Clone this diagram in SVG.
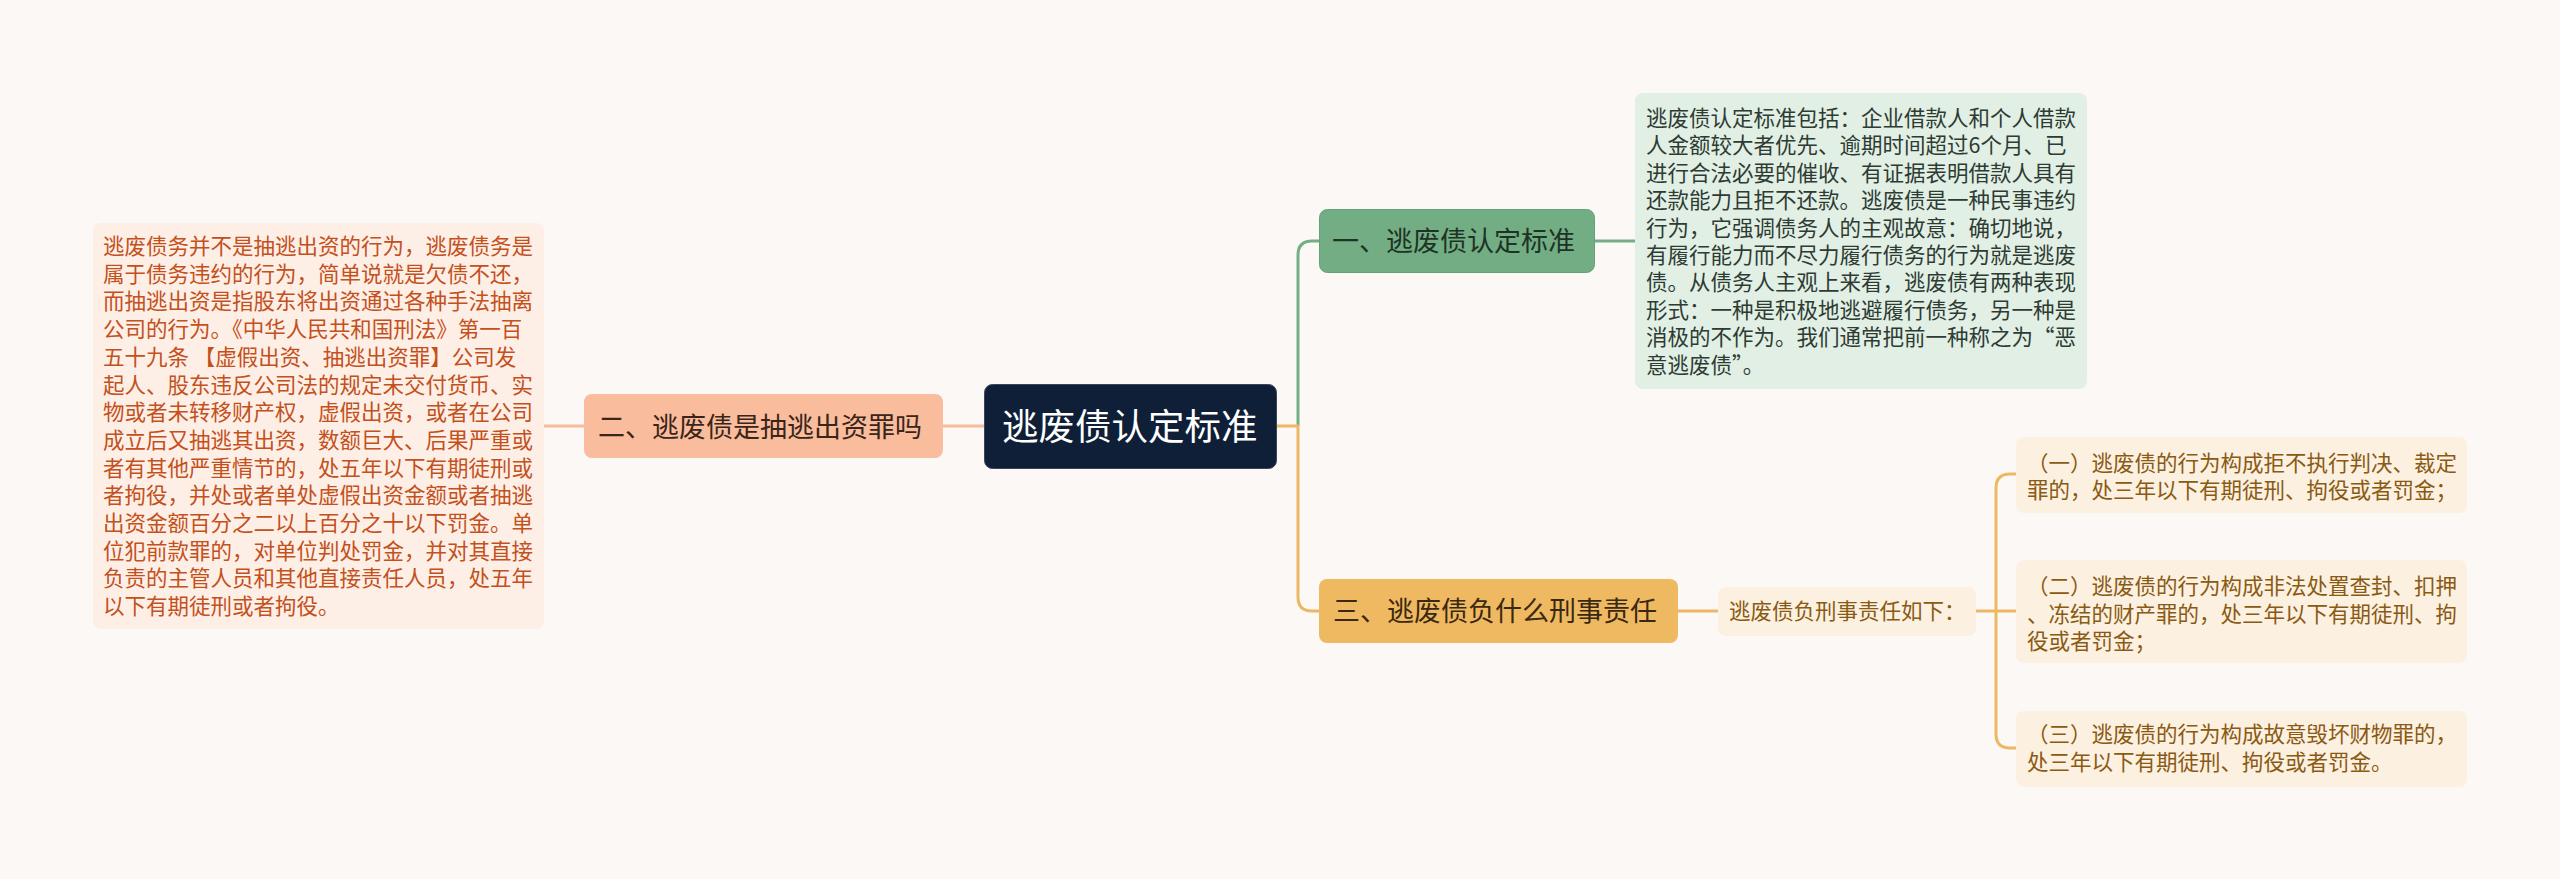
<svg xmlns="http://www.w3.org/2000/svg" width="2560" height="879" viewBox="0 0 2560 879">
<style>
text{font-family:"Noto Sans CJK SC","Noto Sans",sans-serif;}
.conn{fill:none;stroke-width:3;}
.t21{font-size:21.5px;}
.t27{font-size:27px;}
</style>
<rect x="0" y="0" width="2560" height="879" fill="#fcf8f6"/>
<g id="connectors">
  <path class="conn" stroke="#f6bc9e" d="M984,426 H943"/>
  <path class="conn" stroke="#f6bc9e" d="M584,426 H544"/>
  <path class="conn" stroke="#74ae86" d="M1298,426 V255 Q1298,241 1312,241 H1319"/>
  <path class="conn" stroke="#ecb864" d="M1277,426 H1298 V597 Q1298,611 1312,611 H1319"/>
  <path class="conn" stroke="#74ae86" d="M1595,241 H1635"/>
  <path class="conn" stroke="#ecb864" d="M1678,611 H1718"/>
  <path class="conn" stroke="#ecb864" d="M1976,611 H2016"/>
  <path class="conn" stroke="#ecb864" d="M2016,474 H2010 Q1996,474 1996,488 V734 Q1996,748 2010,748 H2016"/>
</g>
<g id="root">
  <rect x="984.5" y="384.5" width="292" height="84" rx="8" fill="#0f1f38" stroke="#3b4658" stroke-width="1"/>
  <text x="1002" y="440" font-size="36.5" fill="#ffffff">逃废债认定标准</text>
</g>
<g id="n1">
  <rect x="1319.5" y="209.5" width="275" height="63" rx="8" fill="#72ad84" stroke="#66a078" stroke-width="1"/>
  <text class="t27" x="1332" y="251" fill="#1f3324">一、逃废债认定标准</text>
</g>
<g id="n1-detail">
  <rect x="1635" y="93" width="452" height="296" rx="8" fill="#e1efe5"/>
  <text class="t21" fill="#2e3b33">
    <tspan x="1646" y="126">逃废债认定标准包括：企业借款人和个人借款</tspan>
    <tspan x="1646" y="153.4">人金额较大者优先、逾期时间超过6个月、已</tspan>
    <tspan x="1646" y="180.8">进行合法必要的催收、有证据表明借款人具有</tspan>
    <tspan x="1646" y="208.2">还款能力且拒不还款。逃废债是一种民事违约</tspan>
    <tspan x="1646" y="235.6">行为，它强调债务人的主观故意：确切地说，</tspan>
    <tspan x="1646" y="263">有履行能力而不尽力履行债务的行为就是逃废</tspan>
    <tspan x="1646" y="290.4">债。从债务人主观上来看，逃废债有两种表现</tspan>
    <tspan x="1646" y="317.8">形式：一种是积极地逃避履行债务，另一种是</tspan>
    <tspan x="1646" y="345.2">消极的不作为。我们通常把前一种称之为“恶</tspan>
    <tspan x="1646" y="372.6">意逃废债”。</tspan>
  </text>
</g>
<g id="n2">
  <rect x="584" y="394" width="359" height="64" rx="8" fill="#f9bc9c"/>
  <text class="t27" x="598" y="437" fill="#3a2518">二、逃废债是抽逃出资罪吗</text>
</g>
<g id="n2-detail">
  <rect x="93" y="223" width="451" height="406" rx="8" fill="#fdefe6"/>
  <text class="t21" fill="#c4501c">
    <tspan x="103" y="254">逃废债务并不是抽逃出资的行为，逃废债务是</tspan>
    <tspan x="103" y="281.7">属于债务违约的行为，简单说就是欠债不还，</tspan>
    <tspan x="103" y="309.4">而抽逃出资是指股东将出资通过各种手法抽离</tspan>
    <tspan x="103" y="337.1">公司的行为。《中华人民共和国刑法》第一百</tspan>
    <tspan x="103" y="364.8">五十九条 【虚假出资、抽逃出资罪】公司发</tspan>
    <tspan x="103" y="392.5">起人、股东违反公司法的规定未交付货币、实</tspan>
    <tspan x="103" y="420.2">物或者未转移财产权，虚假出资，或者在公司</tspan>
    <tspan x="103" y="447.9">成立后又抽逃其出资，数额巨大、后果严重或</tspan>
    <tspan x="103" y="475.6">者有其他严重情节的，处五年以下有期徒刑或</tspan>
    <tspan x="103" y="503.3">者拘役，并处或者单处虚假出资金额或者抽逃</tspan>
    <tspan x="103" y="531">出资金额百分之二以上百分之十以下罚金。单</tspan>
    <tspan x="103" y="558.7">位犯前款罪的，对单位判处罚金，并对其直接</tspan>
    <tspan x="103" y="586.4">负责的主管人员和其他直接责任人员，处五年</tspan>
    <tspan x="103" y="614.1">以下有期徒刑或者拘役。</tspan>
  </text>
</g>
<g id="n3">
  <rect x="1319" y="579" width="359" height="64" rx="8" fill="#efb962"/>
  <text class="t27" x="1333" y="621" fill="#3a2810">三、逃废债负什么刑事责任</text>
</g>
<g id="n3-sub">
  <rect x="1718" y="587" width="258" height="49" rx="8" fill="#fcf0e1"/>
  <text class="t21" x="1729" y="619" fill="#8a5a12">逃废债负刑事责任如下：</text>
</g>
<g id="n3-c1">
  <rect x="2016" y="437" width="451" height="76" rx="8" fill="#fcf0e1"/>
  <text class="t21" fill="#8a5a12">
    <tspan x="2027" y="470.5">（一）逃废债的行为构成拒不执行判决、裁定</tspan>
    <tspan x="2027" y="498">罪的，处三年以下有期徒刑、拘役或者罚金；</tspan>
  </text>
</g>
<g id="n3-c2">
  <rect x="2016" y="560" width="451" height="103" rx="8" fill="#fcf0e1"/>
  <text class="t21" fill="#8a5a12">
    <tspan x="2027" y="594">（二）逃废债的行为构成非法处置查封、扣押</tspan>
    <tspan x="2027" y="621.5">、冻结的财产罪的，处三年以下有期徒刑、拘</tspan>
    <tspan x="2027" y="649">役或者罚金；</tspan>
  </text>
</g>
<g id="n3-c3">
  <rect x="2016" y="711" width="451" height="76" rx="8" fill="#fcf0e1"/>
  <text class="t21" fill="#8a5a12">
    <tspan x="2027" y="742">（三）逃废债的行为构成故意毁坏财物罪的，</tspan>
    <tspan x="2027" y="769.5">处三年以下有期徒刑、拘役或者罚金。</tspan>
  </text>
</g>
</svg>
